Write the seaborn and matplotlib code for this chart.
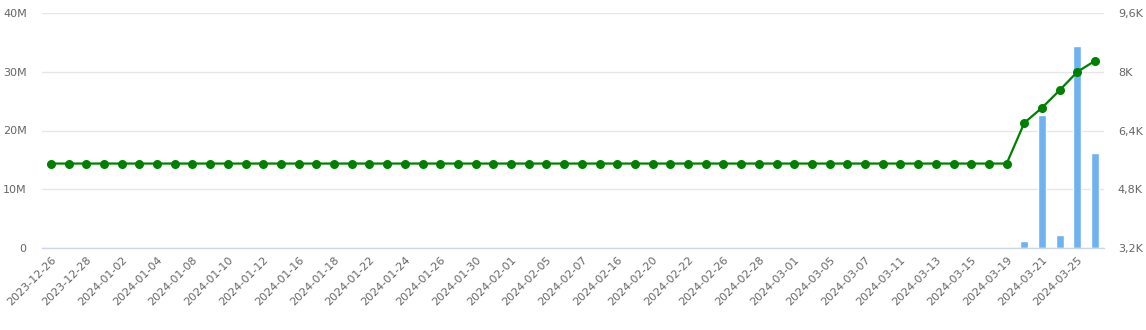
import matplotlib
matplotlib.use("Agg")
import matplotlib.pyplot as plt
import seaborn as sns
import numpy as np
import pandas as pd

dates = [
    "2023-12-26", "2023-12-27", "2023-12-28", "2023-12-29", "2024-01-02", "2024-01-03",
    "2024-01-04", "2024-01-05", "2024-01-08", "2024-01-09", "2024-01-10", "2024-01-11",
    "2024-01-12", "2024-01-15", "2024-01-16", "2024-01-17", "2024-01-18", "2024-01-19",
    "2024-01-22", "2024-01-23", "2024-01-24", "2024-01-25", "2024-01-26", "2024-01-29",
    "2024-01-30", "2024-01-31", "2024-02-01", "2024-02-02", "2024-02-05", "2024-02-06",
    "2024-02-07", "2024-02-08", "2024-02-16", "2024-02-19", "2024-02-20", "2024-02-21",
    "2024-02-22", "2024-02-23", "2024-02-26", "2024-02-27", "2024-02-28", "2024-02-29",
    "2024-03-01", "2024-03-04", "2024-03-05", "2024-03-06", "2024-03-07", "2024-03-08",
    "2024-03-11", "2024-03-12", "2024-03-13", "2024-03-14", "2024-03-15", "2024-03-18",
    "2024-03-19", "2024-03-20", "2024-03-21", "2024-03-22", "2024-03-25", "2024-03-26",
]

volume = [0.0] * 55 + [1.24e6, 22.6e6, 2.2e6, 34.4e6, 16.2e6]
price = [5500.0] * 55 + [6610.0, 7020.0, 7500.0, 8000.0, 8300.0]

left_ticks = [0, 10e6, 20e6, 30e6, 40e6]
left_labels = ["0", "10M", "20M", "30M", "40M"]
right_ticks = [3200, 4800, 6400, 8000, 9600]
right_labels = ["3,2K", "4,8K", "6,4K", "8K", "9,6K"]

df = pd.DataFrame({"date": dates, "volume": volume, "price": price})
df["pos"] = np.arange(len(df))

sns.set_theme(style="white")
plt.rcParams["font.family"] = ["DejaVu Sans"]

fig = plt.figure(figsize=(11.46, 3.30), dpi=100)
ax = fig.add_axes([42 / 1146, 1 - 248 / 330, (1104 - 42) / 1146, (248 - 13) / 330])

sns.barplot(data=df, x="date", y="volume", ax=ax, color="#6fb2f2", saturation=1,
            width=0.45, order=dates)
ax.set_xlim(-0.5, len(dates) - 0.5)
ax.set_ylim(0, 40e6)
ax.set_yticks(left_ticks)
ax.set_yticklabels(left_labels)
ax.grid(axis="y", color="#e6e6e6", linewidth=1)
ax.set_axisbelow(True)
for s in ["top", "right", "left"]:
    ax.spines[s].set_visible(False)
ax.spines["bottom"].set_color("#ccd6eb")
ax.spines["bottom"].set_linewidth(1)
ax.set_xlabel("")
ax.set_ylabel("")
ax.set_xticks(range(0, len(dates), 2))
ax.set_xticklabels(dates[::2], rotation=45, ha="right", rotation_mode="anchor")
ax.tick_params(axis="x", length=0, pad=5, labelsize=8, labelcolor="#666666")
ax.tick_params(axis="y", length=0, pad=11, labelsize=8, labelcolor="#666666")

ax2 = ax.twinx()
sns.lineplot(data=df, x="pos", y="price", ax=ax2, color="#008000", linewidth=1.6,
             marker="o", markersize=6.5, markeredgewidth=0)
ax2.set_ylim(3200, 9600)
ax2.set_xlim(-0.5, len(dates) - 0.5)
ax2.set_yticks(right_ticks)
ax2.set_yticklabels(right_labels)
ax2.set_xlabel("")
ax2.set_ylabel("")
for s in ["top", "right", "left", "bottom"]:
    ax2.spines[s].set_visible(False)
ax2.tick_params(axis="y", length=0, pad=10, labelsize=8, labelcolor="#666666")
ax2.grid(False)

fig.savefig("out.png", dpi=100)
